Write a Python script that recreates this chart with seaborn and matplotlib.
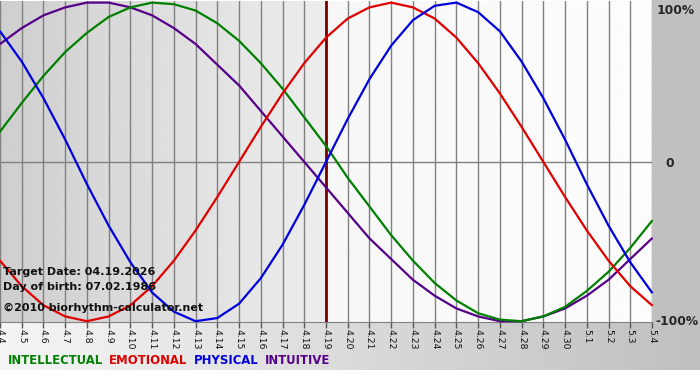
import numpy as np
import pandas as pd
import matplotlib
matplotlib.use("Agg")
import matplotlib.pyplot as plt
import seaborn as sns

# days shown on the x axis (month.day)
day_labels = ["4.4", "4.5", "4.6", "4.7", "4.8", "4.9", "4.10", "4.11", "4.12", "4.13",
              "4.14", "4.15", "4.16", "4.17", "4.18", "4.19", "4.20", "4.21", "4.22", "4.23",
              "4.24", "4.25", "4.26", "4.27", "4.28", "4.29", "4.30", "5.1", "5.2", "5.3", "5.4"]
target_idx = 15  # 4.19

# cycle values (-1 .. 1) for each day
intellectual = [0.19, 0.37, 0.54, 0.69, 0.81, 0.91, 0.97, 1.00, 0.99, 0.95,
                0.87, 0.76, 0.62, 0.46, 0.28, 0.10, -0.10, -0.28, -0.46, -0.62,
                -0.76, -0.87, -0.95, -0.99, -1.00, -0.97, -0.91, -0.81, -0.69, -0.54, -0.37]
emotional = [-0.62, -0.78, -0.90, -0.97, -1.00, -0.97, -0.90, -0.78, -0.62, -0.43,
             -0.22, 0.00, 0.22, 0.43, 0.62, 0.78, 0.90, 0.97, 1.00, 0.97,
             0.90, 0.78, 0.62, 0.43, 0.22, 0.00, -0.22, -0.43, -0.62, -0.78, -0.90]
physical = [0.82, 0.63, 0.40, 0.14, -0.14, -0.40, -0.63, -0.82, -0.94, -1.00,
            -0.98, -0.89, -0.73, -0.52, -0.27, 0.00, 0.27, 0.52, 0.73, 0.89,
            0.98, 1.00, 0.94, 0.82, 0.63, 0.40, 0.14, -0.14, -0.40, -0.63, -0.82]
intuitive = [0.74, 0.84, 0.92, 0.97, 1.00, 1.00, 0.97, 0.92, 0.84, 0.74,
             0.61, 0.48, 0.32, 0.16, 0.00, -0.16, -0.32, -0.48, -0.61, -0.74,
             -0.84, -0.92, -0.97, -1.00, -1.00, -0.97, -0.92, -0.84, -0.74, -0.61, -0.48]

series_names = ["INTUITIVE", "INTELLECTUAL", "EMOTIONAL", "PHYSICAL"]
series_colors = {"INTELLECTUAL": "#008000", "EMOTIONAL": "#e00000",
                 "PHYSICAL": "#0000dd", "INTUITIVE": "#550088"}
legend_order = ["INTELLECTUAL", "EMOTIONAL", "PHYSICAL", "INTUITIVE"]

df = pd.DataFrame({"day": range(len(day_labels)),
                   "INTELLECTUAL": intellectual, "EMOTIONAL": emotional,
                   "PHYSICAL": physical, "INTUITIVE": intuitive})

sns.set_style("white")
plt.rcParams["font.family"] = ["DejaVu Sans"]

W, H = 700, 380
fig = plt.figure(figsize=(7, 3.8), dpi=100)

# figure background: gray right margin, gradient band under the plot
bg = np.ones((H, W))
bg[:322, 652:] = 0.75
grad = np.linspace(0.96, 0.75, W)
bg[322:370, :] = grad
bg_ax = fig.add_axes([0, 0, 1, 1], zorder=-1)
bg_ax.imshow(bg, cmap="gray", vmin=0, vmax=1, aspect="auto")
bg_ax.axis("off")

ax = fig.add_axes([0, 1 - 322 / H, 652 / W, 321 / H])
n = len(day_labels) - 1

# plot area shading: gray up to target date, near white after
left_sh = np.linspace(0.81, 0.93, 200)[None, :]
right_sh = np.linspace(0.97, 0.99, 200)[None, :]
ax.imshow(left_sh, cmap="gray", vmin=0, vmax=1, aspect="auto",
          extent=[0, target_idx, -1.1, 1.1], zorder=0)
ax.imshow(right_sh, cmap="gray", vmin=0, vmax=1, aspect="auto",
          extent=[target_idx, n, -1.1, 1.1], zorder=0)
ax.set_xlim(0, n)
ax.set_ylim(-1.005, 1.01)

for d in df["day"]:
    ax.axvline(d, color="#808080", lw=1, zorder=1)
ax.axhline(0, color="#808080", lw=1, zorder=1)
ax.axvline(target_idx, color="#7a0000", lw=2, zorder=1)

for name in series_names:
    sns.lineplot(data=df, x="day", y=name, color=series_colors[name],
                 lw=1.6, ax=ax, zorder=3, clip_on=False)

ax.set_xlabel("")
ax.set_ylabel("")
ax.set_xticks(df["day"])
ax.set_xticklabels(day_labels, rotation=-90, fontsize=6.7, color="#111111")
ax.tick_params(axis="x", bottom=True, length=4, width=1, color="#555555", pad=1)
ax.set_yticks([])
for s in ["top", "left", "right"]:
    ax.spines[s].set_visible(False)
ax.spines["bottom"].set_color("#808080")

# percent labels on the right
ax.text(n + 0.2, 0.95, "100%", fontsize=8.8, fontweight="bold", va="center", ha="left")
ax.text(n + 0.6, -0.01, "0", fontsize=8.8, fontweight="bold", va="center", ha="left")
ax.text(n + 0.15, -1.0, "-100%", fontsize=8.8, fontweight="bold", va="center", ha="left")

# info text in lower left
fig.text(3 / W, 1 - 272 / H, "Target Date: 04.19.2026", fontsize=8, fontweight="bold",
         va="center", color="#111111")
fig.text(3 / W, 1 - 287 / H, "Day of birth: 07.02.1986", fontsize=8, fontweight="bold",
         va="center", color="#111111")
fig.text(3 / W, 1 - 308 / H, "\u00a92010 biorhythm-calculator.net", fontsize=8,
         fontweight="bold", va="center", color="#111111")

# colored legend words at the bottom
x = 8
r = fig.canvas.get_renderer()
for name in legend_order:
    t = fig.text(x / W, 1 - 361 / H, name, fontsize=8.4, fontweight="bold",
                 color=series_colors[name], va="center")
    bb = t.get_window_extent(renderer=r)
    x += bb.width + 6

fig.savefig("out.png", dpi=100)
